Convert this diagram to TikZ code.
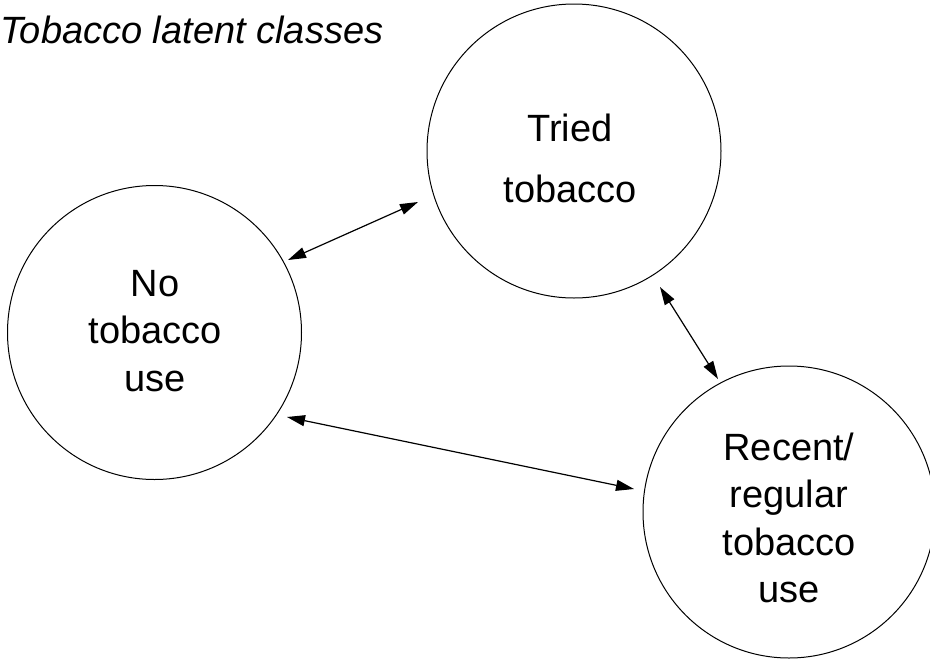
\documentclass[tikz,border=0pt]{standalone}
\usepackage{fontspec}
\setmainfont{Liberation Sans}
\usetikzlibrary{arrows.meta}
\begin{document}
\begin{tikzpicture}[x=1pt,y=-1pt,
  state/.style={circle,draw=black,line width=1pt,minimum size=294pt,inner sep=0pt},
  lbl/.style={align=center,inner sep=0pt,font=\fontsize{38}{47.3}\selectfont},
  conn/.style={line width=1.2pt,{Triangle[length=18pt,width=11pt]}-{Triangle[length=18pt,width=11pt]}}]
\useasboundingbox (0,0) rectangle (930,662);
\clip (0,0) rectangle (930,662);
\fill[white] (0,0) rectangle (930,662);
\node[inner sep=0pt,anchor=base west,font=\fontsize{38}{46}\selectfont\itshape] (title) at (0,43) {Tobacco latent classes};
\node[state] (tried) at (574,151) {};
\node[state] (none) at (154.5,332.5) {};
\node[state,minimum size=292pt] (recent) at (789,512) {};
\node[lbl,font=\fontsize{38}{61}\selectfont] (triedtxt) at (570,158) {Tried\\tobacco};
\node[lbl] (nonetxt) at (155,331) {No\\tobacco\\use};
\node[lbl] (recenttxt) at (789,518) {Recent/\\regular\\tobacco\\use};
\coordinate (a1) at (288,260);
\coordinate (a2) at (418,202);
\coordinate (b1) at (660,287);
\coordinate (b2) at (718,379);
\coordinate (c1) at (287,417);
\coordinate (c2) at (634,489);
\draw[conn] (a1) -- (a2);
\draw[conn] (b1) -- (b2);
\draw[conn] (c1) -- (c2);
\end{tikzpicture}
\end{document}
